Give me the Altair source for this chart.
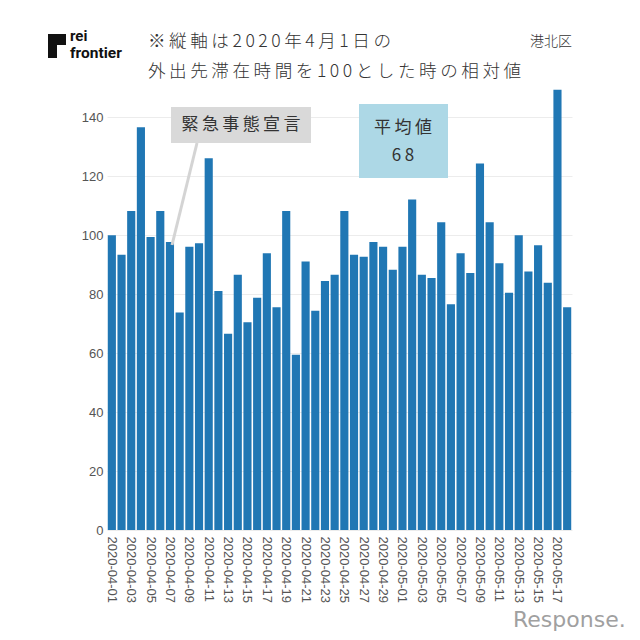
import altair as alt
import pandas as pd

dates = pd.date_range("2020-04-01", "2020-05-18").strftime("%Y-%m-%d").tolist()
values = [100, 93.4, 108.3, 136.7, 99.4, 108.3, 97.7, 73.8, 96.1, 97.3,
          126.2, 81.1, 66.6, 86.6, 70.5, 78.8, 93.9, 75.6, 108.3, 59.5,
          91.1, 74.4, 84.5, 86.6, 108.3, 93.4, 92.7, 97.7, 96.1, 88.3,
          96.1, 112.2, 86.6, 85.5, 104.4, 76.6, 93.9, 87.2, 124.4, 104.4,
          90.5, 80.5, 100, 87.7, 96.6, 83.9, 149.4, 75.6]
tick_dates = dates[::2]
y_ticks = [0, 20, 40, 60, 80, 100, 120, 140]

title1 = "※縦軸は2020年4月1日の"
title2 = "外出先滞在時間を100とした時の相対値"
region = "港北区"
event_label = "緊急事態宣言"
avg_label = "平均値"
avg_value = "68"

df = pd.DataFrame({"date": dates, "value": values})
one = alt.Data(values=[{}])
JP = "Noto Sans CJK JP"

def spaced(s):
    return "\u2009".join(s)

bars = alt.Chart(df).mark_bar(color="#2077b4").encode(
    x=alt.X("date:O", sort=None,
            scale=alt.Scale(paddingInner=0.16, paddingOuter=0.08),
            axis=alt.Axis(title=None, values=tick_dates, labelAngle=90,
                          labelFont="Liberation Sans", labelFontSize=13,
                          labelColor="#555", labelPadding=6, ticks=False,
                          domain=False, grid=False)),
    y=alt.Y("value:Q", scale=alt.Scale(domain=[0, 150], nice=False),
            axis=alt.Axis(title=None, values=y_ticks, labelFont="Liberation Sans",
                          labelFontSize=13, labelColor="#555", labelPadding=4,
                          ticks=False, domain=False, gridColor="#ececec")),
)

def box(x, x2, y, y2, color):
    return alt.Chart(one).mark_rect(color=color).encode(
        x=alt.value(x), x2=alt.value(x2), y=alt.value(y), y2=alt.value(y2))

def txt(t, x, y, size=17, color="#333", align="center", font=JP, weight="normal"):
    return alt.Chart(one).mark_text(
        text=t, fontSize=size, color=color, align=align, baseline="middle",
        font=font, fontWeight=weight).encode(
        x=alt.value(x), y=alt.value(y))

leader = alt.Chart(one).mark_rule(color="#d4d4d4", strokeWidth=3).encode(
    x=alt.value(90), x2=alt.value(65), y=alt.value(55), y2=alt.value(157))

layers = [
    bars,
    leader,
    box(64, 204, 19, 55, "#d9d9d9"),
    txt(spaced(event_label), 134, 37),
    box(252, 341, 16, 90, "#add8e6"),
    txt(spaced(avg_label), 296, 40),
    txt(spaced(avg_value), 296, 68),
    txt(spaced(title1), 41, -46, size=17.6, align="left", weight=300),
    txt(spaced(title2), 41, -16, size=17.6, align="left", weight=300),
    txt(region, 423, -46, size=14, align="left", weight=300),
    box(-59, -41, -54, -43, "#111"),
    box(-59, -50, -54, -30, "#111"),
    txt("rei", -37, -52, size=15, color="#111", align="left", font="Roboto", weight="bold"),
    txt("frontier", -37, -35, size=15.5, color="#111", align="left", font="Roboto", weight="bold"),
    txt("Response.", 406, 532, size=22, color="#a0a0a0", align="left", font="DejaVu Sans"),
]

chart = alt.layer(*layers).properties(
    width=465, height=442,
    autosize=alt.AutoSizeParams(type="none"),
    padding={"left": 99, "top": 80, "right": 60, "bottom": 102},
    background="white",
).configure_view(stroke=None)

chart.save("out.html", embed_options={"renderer": "svg", "actions": False})
